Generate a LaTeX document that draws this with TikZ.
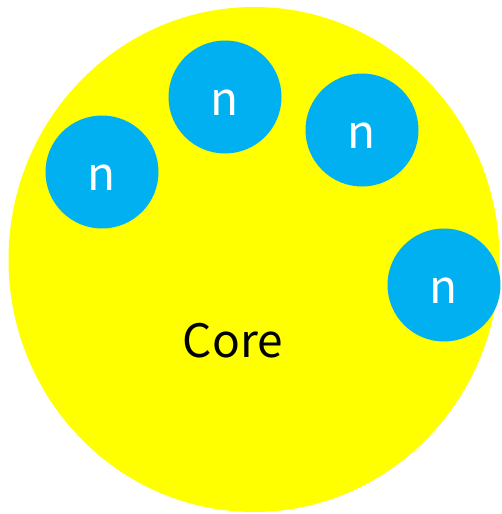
\documentclass[tikz,border=0pt]{standalone}
\usepackage{fontspec}
\newfontfamily\jpfont{Noto Sans CJK JP}
\definecolor{coreyellow}{RGB}{255,255,0}
\definecolor{nblue}{RGB}{0,176,240}
\tikzset{
  nucleon/.style={circle,fill=nblue,minimum size=113pt,inner sep=0pt,text height=36pt,text depth=0pt,text=white,font=\jpfont\fontsize{46}{50}\selectfont},
}
\begin{document}
\begin{tikzpicture}[x=1pt,y=-1pt]
\useasboundingbox (0,0) rectangle (501,514);
\fill[coreyellow] (254,259.5) ellipse [x radius=245.5, y radius=252.5];
\node[font=\jpfont\fontsize{46}{50}\selectfont,inner sep=0pt,anchor=base] (core) at (233,357) {Core};
\node[nucleon] (n1) at (102,172) {n};
\node[nucleon] (n2) at (225,97) {n};
\node[nucleon] (n3) at (362,130) {n};
\node[nucleon] (n4) at (444,285) {n};
\end{tikzpicture}
\end{document}
